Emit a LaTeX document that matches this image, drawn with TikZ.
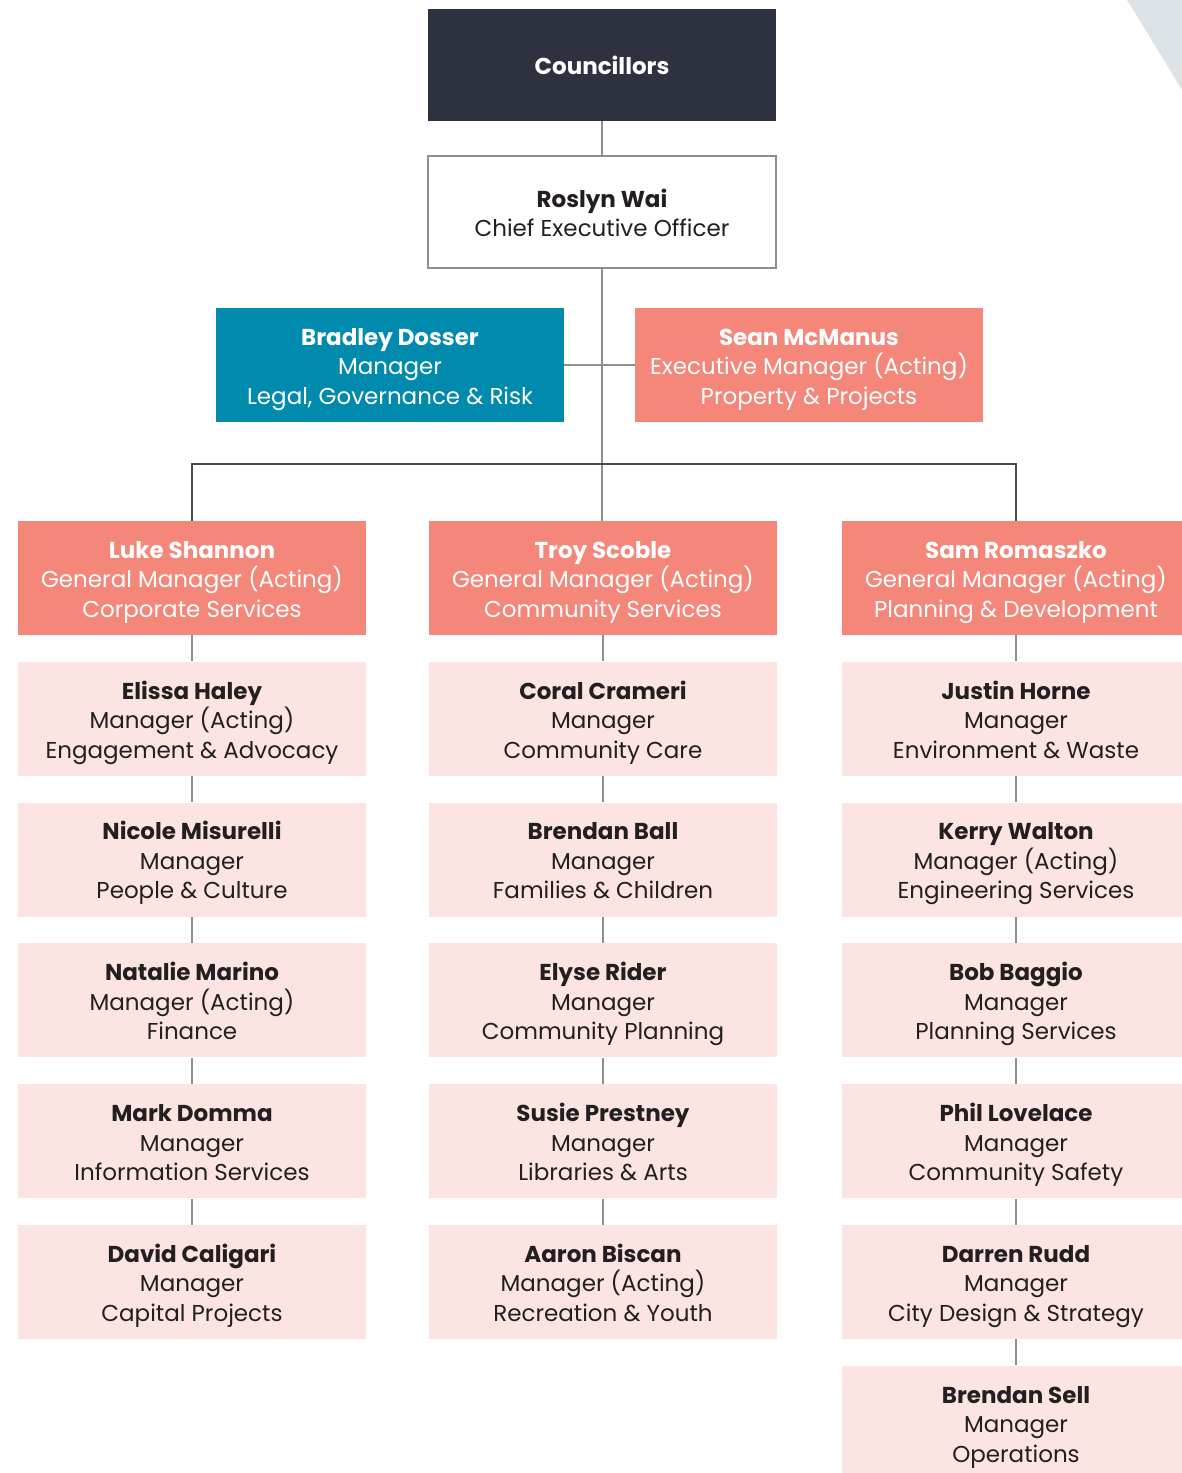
\documentclass[tikz,border=0pt]{standalone}
\usepackage{fontspec}
\setmainfont{Poppins}
\usetikzlibrary{calc,chains,positioning}
\definecolor{cNavy}{HTML}{2E3240}
\definecolor{cTeal}{HTML}{008AAE}
\definecolor{cSalmon}{HTML}{F4877A}
\definecolor{cBlush}{HTML}{FBE4E2}
\definecolor{cInk}{HTML}{231F20}
\definecolor{cLine}{HTML}{8E8E8E}
\definecolor{cBus}{HTML}{4B4B45}
\definecolor{cMist}{HTML}{DCE2E5}
\newcommand{\boxfont}{\fontsize{11.5}{14.75}\selectfont\lineskiplimit=-50pt\relax}
\tikzstyle{box}=[
	 rectangle, inner sep=0pt,
	 minimum width=174pt, minimum height=57pt,
	 align=center, font=\boxfont
    ]
\tikzstyle{council}=[box, minimum height=56pt, fill=cNavy, text=white]
\tikzstyle{ceo}=[box, minimum height=56pt, draw=cLine, line width=0.6pt, fill=white, text=cInk]
\tikzstyle{legal}=[box, fill=cTeal, text=white]
\tikzstyle{exec}=[box, fill=cSalmon, text=white]
\tikzstyle{mgr}=[box, fill=cBlush, text=cInk, on chain]
\tikzstyle{link}=[draw=cLine, line width=1pt]
\tikzstyle{bus}=[draw=cBus, line width=0.8pt]
\newcommand{\topstrut}{\rule{0pt}{14.3pt}}
\newcommand{\who}[3]{\textbf{\topstrut #1}\\\strut #2\\\strut #3}
\newcommand{\vLink}[2]{\draw[link] (#1.south) -- (#2.north)}

\begin{document}
\begin{tikzpicture}[x=0.5pt, y=-0.5pt, node distance=13pt]

\useasboundingbox (0,0) rectangle (1182,1473);
\fill[cMist] (1127,0) .. controls (1153,42) .. (1182,90) -- (1182,0) -- cycle;

\node[council] (coun) at (602,65) {\bfseries Councillors};
\node[ceo] (ceo) at (602,212) {\textbf{\topstrut Roslyn Wai}\\\strut Chief Executive Officer};
\node[legal] (brad) at (390,365) {\who{Bradley Dosser}{Manager}{Legal, Governance \& Risk}};
\node[exec] (sean) at (809,365) {\who{Sean McManus}{Executive Manager (Acting)}{Property \& Projects}};
\coordinate (bus) at (601,464);

\begin{scope}[start chain=L going below]
\node[exec, on chain] (gmL) at (192,578) {\who{Luke Shannon}{General Manager (Acting)}{Corporate Services}};
\node[mgr] (L1) {\who{Elissa Haley}{Manager (Acting)}{Engagement \& Advocacy}};
\node[mgr] (L2) {\who{Nicole Misurelli}{Manager}{People \& Culture}};
\node[mgr] (L3) {\who{Natalie Marino}{Manager (Acting)}{Finance}};
\node[mgr] (L4) {\who{Mark Domma}{Manager}{Information Services}};
\node[mgr] (L5) {\who{David Caligari}{Manager}{Capital Projects}};
\end{scope}

\begin{scope}[start chain=C going below]
\node[exec, on chain] (gmC) at (603,578) {\who{Troy Scoble}{General Manager (Acting)}{Community Services}};
\node[mgr] (C1) {\who{Coral Crameri}{Manager}{Community Care}};
\node[mgr] (C2) {\who{Brendan Ball}{Manager}{Families \& Children}};
\node[mgr] (C3) {\who{Elyse Rider}{Manager}{Community Planning}};
\node[mgr] (C4) {\who{Susie Prestney}{Manager}{Libraries \& Arts}};
\node[mgr] (C5) {\who{Aaron Biscan}{Manager (Acting)}{Recreation \& Youth}};
\end{scope}

\begin{scope}[start chain=R going below]
\node[exec, on chain] (gmR) at (1016,578) {\who{Sam Romaszko}{General Manager (Acting)}{Planning \& Development}};
\node[mgr] (R1) {\who{Justin Horne}{Manager}{Environment \& Waste}};
\node[mgr] (R2) {\who{Kerry Walton}{Manager (Acting)}{Engineering Services}};
\node[mgr] (R3) {\who{Bob Baggio}{Manager}{Planning Services}};
\node[mgr] (R4) {\who{Phil Lovelace}{Manager}{Community Safety}};
\node[mgr] (R5) {\who{Darren Rudd}{Manager}{City Design \& Strategy}};
\node[mgr] (R6) {\who{Brendan Sell}{Manager}{Operations}};
\end{scope}

\vLink{coun}{ceo};
\draw[link] (ceo.south) -- (ceo.south |- gmC.north);
\draw[link] (brad.east) -- (sean.west);
\draw[bus] (gmL.north) |- (bus) -| (gmR.north);

\vLink{gmL}{L1};
\vLink{L1}{L2};
\vLink{L2}{L3};
\vLink{L3}{L4};
\vLink{L4}{L5};

\vLink{gmC}{C1};
\vLink{C1}{C2};
\vLink{C2}{C3};
\vLink{C3}{C4};
\vLink{C4}{C5};

\vLink{gmR}{R1};
\vLink{R1}{R2};
\vLink{R2}{R3};
\vLink{R3}{R4};
\vLink{R4}{R5};
\vLink{R5}{R6};

\end{tikzpicture}
\end{document}
